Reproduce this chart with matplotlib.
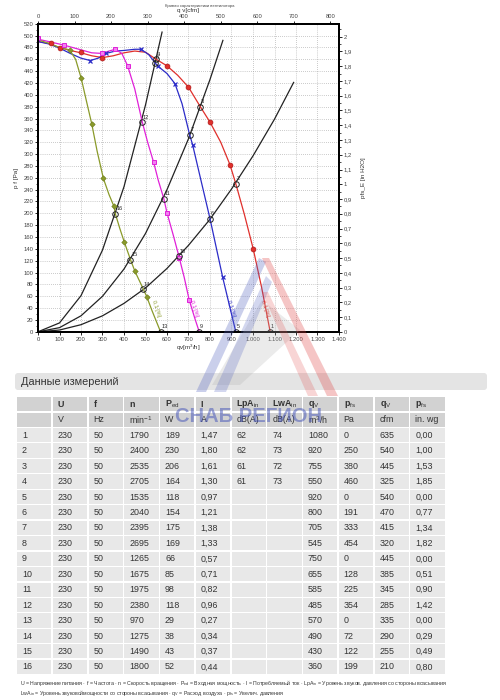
import matplotlib
matplotlib.use('Agg')
import matplotlib.pyplot as plt
from matplotlib.patches import Rectangle, Polygon, FancyBboxPatch

plt.rcParams['font.family'] = ['Liberation Sans', 'DejaVu Sans']
plt.rcParams['mathtext.fontset'] = 'custom'
plt.rcParams['mathtext.rm'] = 'Liberation Sans'
plt.rcParams['mathtext.it'] = 'Liberation Sans:italic'
plt.rcParams['mathtext.bf'] = 'Liberation Sans:bold'

# ---- fan curves (q in m3/h, p in Pa)
q_red = [0, 50, 100, 150, 200, 250, 300, 350, 400, 450, 500, 550, 600, 650, 700, 755, 800, 850, 893, 920, 960, 1001, 1040, 1080]
p_red = [490, 487, 480, 475, 471, 466, 463, 466, 471, 474, 472, 460, 449, 433, 413, 380, 354, 320, 282, 250, 198, 140, 75, 0]
q_red_mk = [62, 100, 201, 298, 600, 700, 799, 893, 1001]
p_red_mk = [488, 479, 472, 462, 449, 413, 354, 282, 140]

q_blue = [0, 50, 100, 150, 200, 243, 280, 317, 360, 400, 450, 479, 515, 545, 556, 600, 637, 670, 705, 719, 750, 800, 859, 890, 920]
p_blue = [490, 486, 479, 470, 462, 458, 462, 470, 474, 475, 477, 477, 468, 454, 449, 436, 419, 385, 333, 316, 268, 191, 92, 45, 0]
q_blue_mk = [243, 317, 479, 556, 637, 719, 859]
p_blue_mk = [458, 470, 477, 449, 419, 316, 92]

q_mag = [0, 50, 121, 200, 250, 297, 330, 360, 390, 417, 450, 485, 510, 538, 560, 585, 600, 630, 655, 680, 703, 730, 750]
p_mag = [494, 490, 484, 476, 471, 470, 474, 477, 470, 449, 410, 354, 320, 286, 255, 225, 201, 162, 128, 92, 54, 22, 0]
q_mag_mk = [0, 121, 297, 360, 417, 538, 600, 657, 703]
p_mag_mk = [496, 484, 470, 477, 449, 286, 201, 124, 54]

q_oli = [0, 50, 100, 147, 175, 201, 225, 250, 275, 304, 330, 353, 360, 380, 401, 430, 451, 490, 505, 530, 570]
p_oli = [493, 487, 480, 476, 460, 428, 390, 351, 305, 259, 232, 212, 199, 175, 152, 122, 102, 72, 60, 36, 0]
q_oli_mk = [147, 201, 250, 304, 353, 401, 451, 505]
p_oli_mk = [476, 428, 351, 259, 212, 152, 102, 58]

# ---- system curves
q_sys1 = [0, 100, 200, 300, 400, 500, 600, 700, 800, 900, 1000, 1100, 1189]
p_sys1 = [0, 3, 12, 27, 48, 74, 107, 146, 190, 241, 297, 359, 421]
q_sys2 = [0, 100, 200, 300, 400, 500, 600, 700, 800, 860]
p_sys2 = [0, 7, 27, 60, 106, 166, 240, 326, 426, 492]
q_sys3 = [0, 100, 200, 300, 400, 500, 577]
p_sys3 = [0, 15, 61, 138, 245, 383, 506]

# ---- measurement table
point_no = ['1', '2', '3', '4', '5', '6', '7', '8', '9', '10', '11', '12', '13', '14', '15', '16']
U = [230, 230, 230, 230, 230, 230, 230, 230, 230, 230, 230, 230, 230, 230, 230, 230]
f = [50, 50, 50, 50, 50, 50, 50, 50, 50, 50, 50, 50, 50, 50, 50, 50]
n = [1790, 2400, 2535, 2705, 1535, 2040, 2395, 2695, 1265, 1675, 1975, 2380, 970, 1275, 1490, 1800]
Ped = [189, 230, 206, 164, 118, 154, 175, 169, 66, 85, 98, 118, 29, 38, 43, 52]
I = ['1,47', '1,80', '1,61', '1,30', '0,97', '1,21', '1,38', '1,33', '0,57', '0,71', '0,82', '0,96', '0,27', '0,34', '0,37', '0,44']
LpA = ['62', '62', '61', '61', '', '', '', '', '', '', '', '', '', '', '', '']
LwA = ['74', '73', '72', '73', '', '', '', '', '', '', '', '', '', '', '', '']
qv = [1080, 920, 755, 550, 920, 800, 705, 545, 750, 655, 585, 485, 570, 490, 430, 360]
pfs = [0, 250, 380, 460, 0, 191, 333, 454, 0, 128, 225, 354, 0, 72, 122, 199]
qv_cfm = [635, 540, 445, 325, 540, 470, 415, 320, 445, 385, 345, 285, 335, 290, 255, 210]
pfs_in = ['0,00', '1,00', '1,53', '1,85', '0,00', '0,77', '1,34', '1,82', '0,00', '0,51', '0,90', '1,42', '0,00', '0,29', '0,49', '0,80']

head1 = ['', 'U', 'f', 'n', r'P$_{\rm ed}$', 'I', r'LpA$_{\rm in}$', r'LwA$_{\rm in}$', r'q$_{\rm V}$', r'p$_{\rm fs}$', r'q$_{\rm V}$', r'p$_{\rm fs}$']
head2 = ['', 'V', 'Hz', r'min$^{-1}$', 'W', 'A', 'dB(A)', 'dB(A)', r'm$^3$/h', 'Pa', 'cfm', 'in. wg']

fig = plt.figure(figsize=(5, 7), dpi=100)

# ---------------- chart
ax = fig.add_axes([0.076, 0.526, 0.602, 0.44])
grid_kw = dict(color='#999999', lw=0.5, ls=(0, (1, 2)))
ax.grid(True, **grid_kw)

for qs, ps in [(q_sys1, p_sys1), (q_sys2, p_sys2), (q_sys3, p_sys3)]:
    ax.plot(qs, ps, color='#222222', lw=0.9, zorder=3)

ax.plot(q_red, p_red, color='#e0302c', lw=0.9, zorder=4)
ax.plot(q_red_mk, p_red_mk, ls='none', marker='o', ms=3.5, mfc='#e0302c', mec='#b01818', mew=0.5, zorder=5)
ax.plot(q_blue, p_blue, color='#2c2cc8', lw=0.9, zorder=4)
ax.plot(q_blue_mk, p_blue_mk, ls='none', marker='x', ms=3.5, mec='#2c2cc8', mew=0.9, zorder=5)
ax.plot(q_mag, p_mag, color='#e020d8', lw=0.9, zorder=4)
ax.plot(q_mag_mk, p_mag_mk, ls='none', marker='s', ms=3.2, mfc='#f080f0', mec='#e020d8', mew=0.7, zorder=5)
ax.plot(q_oli, p_oli, color='#8a9a2a', lw=0.9, zorder=4)
ax.plot(q_oli_mk, p_oli_mk, ls='none', marker='D', ms=2.8, mfc='#8a9a2a', mec='#6a7a1a', mew=0.4, zorder=5)

# operating points
ax.plot(qv, pfs, ls='none', marker='o', ms=4, mfc='none', mec='#222222', mew=0.7, zorder=6)
for k in range(len(qv)):
    ax.annotate(point_no[k], (qv[k], pfs[k]), xytext=(0.5, 2.5), textcoords='offset points',
                fontsize=4, color='#222222', zorder=7)

# curve labels near the bottom
for qx, col in [(548, '#8a9a2a'), (728, '#e020d8'), (897, '#2c2cc8'), (1058, '#e0302c')]:
    ax.text(qx, 40, '0,1 [%]', color=col, fontsize=4, rotation=-72, ha='center', va='center', zorder=7)

ax.set_xlim(0, 1400)
ax.set_ylim(0, 520)
ax.set_xticks(range(0, 1401, 100))
ax.set_xticklabels([f'{v:,}'.replace(',', '.') for v in range(0, 1401, 100)])
ax.set_yticks(range(0, 521, 20))
ax.set_yticks(range(0, 521, 10), minor=True)
ax.tick_params(labelsize=4.2, labelcolor='#444444', length=2.5, width=0.6, pad=1)
ax.tick_params(which='minor', length=1.5, width=0.5)
for s in ax.spines.values():
    s.set_linewidth(1.4)
ax.set_xlabel(r'qv[m$^3$/h]', fontsize=4.5, labelpad=1, color='#333333')
ax.set_ylabel('p f [Pa]', fontsize=4.5, labelpad=3, color='#333333')

axt = ax.twiny()
axt.set_xlim(0, 1400 / 1.699)
axt.set_xticks(range(0, 801, 100))
axt.tick_params(labelsize=4.2, labelcolor='#444444', length=2.5, width=0.6, pad=1)
axt.set_xlabel('q v[cfm]', fontsize=4.5, labelpad=1.5, color='#333333')

axr = ax.twinx()
axr.set_ylim(0, 520 / 249.09)
rt = [i / 10 for i in range(0, 21)]
axr.set_yticks(rt)
axr.set_yticklabels([('%g' % v).replace('.', ',') for v in rt])
axr.set_yticks([i / 20 for i in range(0, 42)], minor=True)
axr.tick_params(labelsize=4.2, labelcolor='#444444', length=2.5, width=0.6, pad=1)
axr.tick_params(which='minor', length=1.5, width=0.5)
axr.set_ylabel('pfs_E [in H2O]', fontsize=4.5, labelpad=6, color='#333333')
for a in (axt, axr):
    for s in a.spines.values():
        s.set_linewidth(1.4)

fig.text(0.40, 0.991, 'Кривая характеристики вентилятора', fontsize=3, color='#444444', ha='center', va='center')

# ---------------- table
tab = fig.add_axes([0, 0, 1, 1])
tab.set_xlim(0, 500)
tab.set_ylim(700, 0)
tab.axis('off')
tab.patch.set_alpha(0)

tab.add_patch(FancyBboxPatch((15, 373), 472, 17, boxstyle='round,pad=0,rounding_size=3',
                             fc='#e4e4e4', ec='none'))
tab.text(21, 382, 'Данные измерений', fontsize=7.8, color='#333333', va='center')

col_w = 35.75
row_h = 15.45
x0 = 17
hdr_y = [397.1, 412.5]
data_y0 = 428.0
gap = 1.3

rows = []
for k in range(16):
    rows.append([point_no[k], str(U[k]), str(f[k]), str(n[k]), str(Ped[k]), I[k], LpA[k], LwA[k],
                 str(qv[k]), str(pfs[k]), str(qv_cfm[k]), pfs_in[k]])

for r, (ytop, labels) in enumerate(zip(hdr_y, [head1, head2])):
    for c in range(12):
        tab.add_patch(Rectangle((x0 + c * col_w, ytop), col_w - gap, row_h - gap, fc='#d2d2d2', ec='none'))
        tab.text(x0 + c * col_w + 5, ytop + row_h / 2 - 0.5, labels[c], fontsize=6.4, color='#333333',
                 va='center', fontweight='bold' if r == 0 else 'normal')

for k in range(16):
    ytop = data_y0 + k * row_h
    for c in range(12):
        tab.add_patch(Rectangle((x0 + c * col_w, ytop), col_w - gap, row_h - gap, fc='#e8e8e8', ec='none'))
        tab.text(x0 + c * col_w + 5, ytop + row_h / 2 - 0.5, rows[k][c], fontsize=6.4, color='#333333', va='center')

foot1 = (r'U = Напряжение питания · f = Частота · n = Скорость вращения · P$_{\rm ed}$ = Входная мощность · '
         r'I = Потребляемый ток · LpA$_{\rm in}$ = Уровень звуков. давления со стороны всасывания')
foot2 = r'LwA$_{\rm in}$ = Уровень звуковоймощности со стороны всасывания · q$_{\rm V}$ = Расход воздуха · p$_{\rm fs}$ = Увелич. давления'
tab.text(20, 682.5, foot1, fontsize=3.8, color='#333333', va='center')
tab.text(20, 692.5, foot2, fontsize=3.8, color='#333333', va='center')

# ---------------- watermark logo
tab.add_patch(Polygon([(212, 385), (240, 385), (300, 330), (262, 300)], closed=True, fc='#b0b0b0', ec='none', alpha=0.25))
tab.add_patch(Polygon([(196, 392), (206, 392), (266, 262), (259, 258)], closed=True, fc='#5060c0', ec='none', alpha=0.3))
tab.add_patch(Polygon([(214, 392), (226, 392), (272, 282), (266, 276)], closed=True, fc='#5060c0', ec='none', alpha=0.25))
tab.add_patch(Polygon([(262, 258), (269, 258), (338, 396), (327, 396)], closed=True, fc='#e04040', ec='none', alpha=0.3))
tab.add_patch(Polygon([(262, 292), (268, 292), (318, 396), (308, 396)], closed=True, fc='#e04040', ec='none', alpha=0.22))
tab.text(249, 416, 'СНАБ РЕГИОН', fontsize=14.5, fontweight='bold', color='#4050b8', alpha=0.5,
         ha='center', va='center')

fig.savefig('out.png', dpi=100)
